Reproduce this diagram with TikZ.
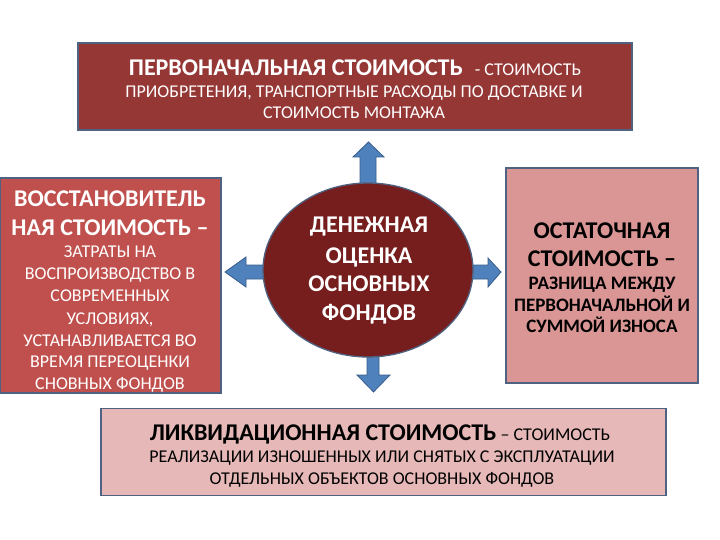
\documentclass[tikz,border=0pt]{standalone}
\usepackage{fontspec}
\setmainfont{Carlito}
\usetikzlibrary{shapes.geometric}
\definecolor{topc}{RGB}{149,55,53}
\definecolor{leftc}{RGB}{192,80,77}
\definecolor{rightc}{RGB}{217,150,148}
\definecolor{botc}{RGB}{230,185,184}
\definecolor{ellc}{RGB}{118,30,30}
\definecolor{bordc}{RGB}{79,98,129}
\definecolor{arrc}{RGB}{79,129,189}
\definecolor{arrb}{RGB}{56,93,138}
\begin{document}
\begin{tikzpicture}[x=1pt,y=-1pt,
  boxs/.style={draw=bordc, line width=1.3pt, rectangle, inner sep=0pt},
  bigw/.style={font=\fontsize{24}{28}\selectfont\bfseries, text=white, anchor=base, inner sep=0pt},
  smw/.style={font=\fontsize{18}{22}\selectfont, text=white, anchor=base, inner sep=0pt},
  bigk/.style={font=\fontsize{24}{28}\selectfont\bfseries, text=black, anchor=base, inner sep=0pt},
  smk/.style={font=\fontsize{18}{22}\selectfont, text=black, anchor=base, inner sep=0pt},
  smkb/.style={font=\fontsize{19}{22}\selectfont\bfseries, text=black, anchor=base, inner sep=0pt},
  ellw/.style={font=\fontsize{24}{28}\selectfont\bfseries, text=white, anchor=base, inner sep=0pt},
  blockarrow/.style={fill=arrc, draw=arrb, line width=0.8pt, line join=miter}]
\useasboundingbox (0,0) rectangle (720,540);
\fill[white] (0,0) rectangle (720,540);
% boxes
\node[boxs, fill=topc, minimum width=554pt, minimum height=87pt] (top) at (355,86.5) {};
\node[boxs, fill=leftc, minimum width=221pt, minimum height=215pt] (left) at (110.5,285.5) {};
\node[boxs, fill=rightc, minimum width=192pt, minimum height=215pt] (right) at (602,275.5) {};
\node[boxs, fill=botc, minimum width=565pt, minimum height=87pt] (bot) at (383.5,452) {};
% arrows
\draw[blockarrow] (360,186) -- (360,157) -- (353,157) -- (368.5,142) -- (384,157) -- (376,157) -- (376,186) -- cycle;
\draw[blockarrow] (266,265) -- (246,265) -- (246,257) -- (225,272) -- (246,287) -- (246,279) -- (266,279) -- cycle;
\draw[blockarrow] (470,265) -- (488,265) -- (488,258) -- (501,272) -- (488,287) -- (488,279) -- (470,279) -- cycle;
\draw[blockarrow] (367,352) -- (367,375) -- (357,375) -- (373.5,392) -- (390,375) -- (379,375) -- (379,352) -- cycle;
% ellipse
\node[draw=bordc, line width=1.3pt, fill=ellc, ellipse, minimum width=210pt, minimum height=174pt, inner sep=0pt] (ell) at (368,270) {};
% top text
\node[anchor=base, inner sep=0pt, text=white] (t1) at (355,76) {{\fontsize{24}{28}\selectfont\bfseries ПЕРВОНАЧАЛЬНАЯ СТОИМОСТЬ}\fontsize{18}{22}\selectfont\hspace{12pt}- СТОИМОСТЬ};
\node[smw] (t2) at (354,98) {ПРИОБРЕТЕНИЯ, ТРАНСПОРТНЫЕ РАСХОДЫ ПО ДОСТАВКЕ И};
\node[smw] (t3) at (354,119) {СТОИМОСТЬ МОНТАЖА};
% left text
\node[bigw] (l1) at (110,207) {ВОССТАНОВИТЕЛЬ};
\node[bigw] (l2) at (110,236) {НАЯ СТОИМОСТЬ –};
\node[smw] (l3) at (110,257) {ЗАТРАТЫ НА};
\node[smw] (l4) at (110,279) {ВОСПРОИЗВОДСТВО В};
\node[smw] (l5) at (110,301) {СОВРЕМЕННЫХ};
\node[smw] (l6) at (110,324) {УСЛОВИЯХ,};
\node[smw] (l7) at (110,346) {УСТАНАВЛИВАЕТСЯ ВО};
\node[smw] (l8) at (110,367) {ВРЕМЯ ПЕРЕОЦЕНКИ};
\node[smw] (l9) at (110,389) {СНОВНЫХ ФОНДОВ};
% ellipse text
\node[ellw] (e1) at (369,233) {ДЕНЕЖНАЯ};
\node[ellw] (e2) at (369,263) {ОЦЕНКА};
\node[ellw] (e3) at (369,291) {ОСНОВНЫХ};
\node[ellw] (e4) at (369,320) {ФОНДОВ};
% right text
\node[bigk] (r1) at (602,239) {ОСТАТОЧНАЯ};
\node[bigk] (r2) at (602,266) {СТОИМОСТЬ –};
\node[smkb] (r3) at (602,289) {РАЗНИЦА МЕЖДУ};
\node[smkb] (r4) at (602,311) {ПЕРВОНАЧАЛЬНОЙ И};
\node[smkb] (r5) at (602,332) {СУММОЙ ИЗНОСА};
% bottom text
\node[anchor=base, inner sep=0pt, text=black] (b1) at (380,440) {{\fontsize{24}{28}\selectfont\bfseries ЛИКВИДАЦИОННАЯ СТОИМОСТЬ}\fontsize{18}{22}\selectfont\ – СТОИМОСТЬ};
\node[smk] (b2) at (382,462) {РЕАЛИЗАЦИИ ИЗНОШЕННЫХ ИЛИ СНЯТЫХ С ЭКСПЛУАТАЦИИ};
\node[smk] (b3) at (382,484) {ОТДЕЛЬНЫХ ОБЪЕКТОВ ОСНОВНЫХ ФОНДОВ};
\end{tikzpicture}
\end{document}
